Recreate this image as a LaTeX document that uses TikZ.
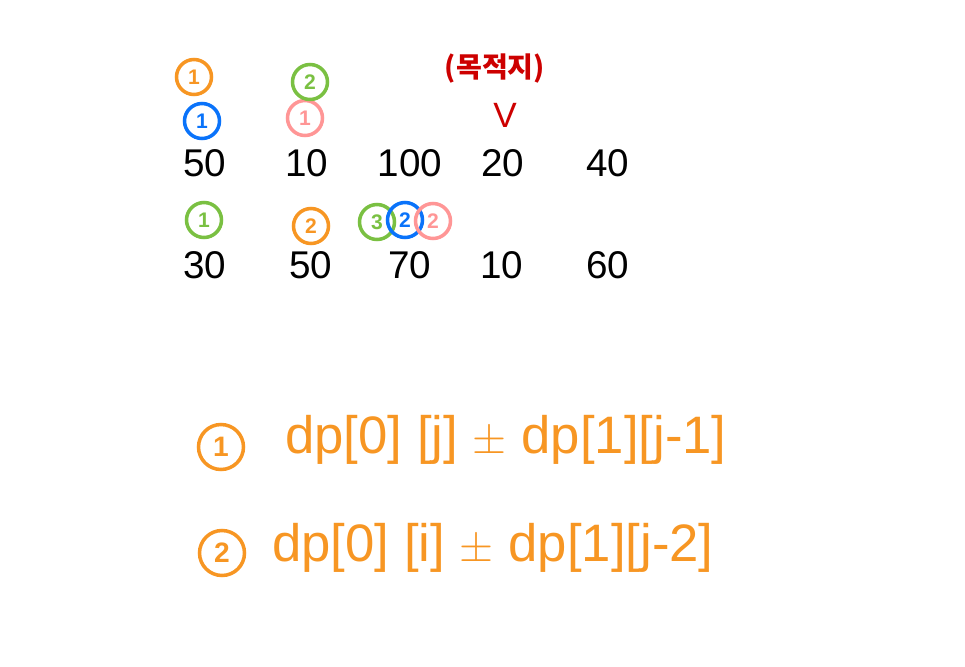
\documentclass[tikz,border=0pt]{standalone}
\usepackage{fontspec}
\setmainfont{Liberation Sans}
\newfontfamily\kofont{Noto Sans CJK KR}
\usetikzlibrary{positioning}
\definecolor{penorange}{RGB}{247,150,35}
\definecolor{pengreen}{RGB}{122,192,66}
\definecolor{penblue}{RGB}{10,115,250}
\definecolor{penpink}{RGB}{255,150,150}
\definecolor{penred}{RGB}{205,0,0}

\begin{document}
\begin{tikzpicture}[x=0.02cm,y=-0.02cm,font=\fontsize{22}{24}\selectfont]
\tikzset{num/.style={inner sep=0pt,text=black},
mark/.style={circle,draw=#1,text=#1,line width=2pt,minimum size=7mm,inner sep=0pt,
font=\fontsize{12}{12}\selectfont\bfseries},
formula/.style={text=penorange,anchor=west,inner sep=0pt,font=\fontsize{30}{32}\selectfont}}
\useasboundingbox (0,0) rectangle (965,667);
% first row
\node[num] (a1) at (205,163) {50};
\node[num] (a2) at (307,163) {10};
\node[num] (a3) at (410,163) {100};
\node[num] (a4) at (503,163) {20};
\node[num] (a5) at (608,163) {40};
% second row
\node[num] (b1) at (205,265) {30};
\node[num] (b2) at (311,265) {50};
\node[num] (b3) at (410,265) {70};
\node[num] (b4) at (502,265) {10};
\node[num] (b5) at (608,265) {60};
% marks on the first row
\node[mark=penblue] (ma1) at (202,121) {1};
\node[mark=penorange] (ma1o) at (194,77) {1};
\node[mark=penpink] (ma2) at (305,118) {1};
\node[mark=pengreen] (ma2g) at (310,82) {2};
% goal
\node[text=penred,font=\kofont\fontsize{16}{18}\selectfont\bfseries] (goal) at (495,69) {(목적지)};
\node[text=penred,font=\fontsize{20}{20}\selectfont] (tick) at (505,115) {V};
% marks on the second row
\node[mark=pengreen] (mb1) at (204,220) {1};
\node[mark=penorange] (mb2) at (311,226) {2};
\node[mark=pengreen] (mb3g) at (377,222) {3};
\node[mark=penblue] (mb3b) at (405,220) {2};
\node[mark=penpink] (mb3p) at (433,221) {2};
% rules
\node[mark=penorange,minimum size=9mm,font=\fontsize{16}{16}\selectfont\bfseries] (r1) at (221,447) {1};
\node[formula] (f1) at (285,440) {dp[0] [j] $\pm$ dp[1][j-1]};
\node[mark=penorange,minimum size=9mm,font=\fontsize{16}{16}\selectfont\bfseries] (r2) at (222,553) {2};
\node[formula] (f2) at (272,548) {dp[0] [i] $\pm$ dp[1][j-2]};
\end{tikzpicture}
\end{document}
